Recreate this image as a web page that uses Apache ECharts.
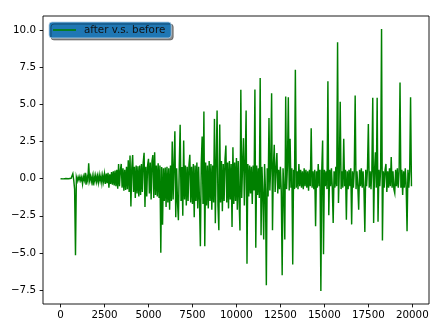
<!DOCTYPE html>
<html>
<head>
<meta charset="utf-8">
<script src="https://cdn.jsdelivr.net/npm/echarts@6/dist/echarts.min.js"></script>
<style>html,body{margin:0;padding:0;background:#fff;}#c{width:448px;height:332px;}</style>
</head>
<body>
<div id="c"></div>
<script>
// Series name
var seriesName = 'after v.s. before';
// Sample spacing along the x axis (sample index units between readings)
var sampleStep = 50;
// Values, one per 50 samples (x = 0 .. 19950)
var diffValues = [
  0, 0.01, 0, -0.01, 0.01, 0, 0.02, -0.01, 0.01, 0,
  0.02, -0.02, 0.03, -0.01, 0.34, -0.1, -0.7, -5.17, 0.1, -0.15,
  0.12, -0.1, 0.15, -0.12, 0.1, -0.35, 0.14, -0.1, 0.4, -0.4,
  0.12, -0.15, 1.05, -0.1, 0.18, -0.2, 0.15, -0.45, 0.2, -0.18,
  0.22, -0.2, 0.18, -0.25, 0.25, -0.15, 0.2, -0.3, 0.22, -0.2,
  0.3, -0.35, 0.35, -0.3, 0.4, -0.6, 0.3, -0.35, 0.45, -0.4,
  0.5, -0.45, 0.55, -0.5, 0.6, -0.67, 1.0, -0.5, 0.55, 1.0,
  -0.6, 0.7, -0.8, 0.6, -0.75, 0.8, -0.7, 1.25, -0.9, 1.57,
  -1.87, 0.7, 1.6, -0.9, 0.8, -1.3, 0.9, -1.0, 0.85, -1.2,
  0.9, -1.1, 1.0, -0.9, 1.1, 1.75, -1.9, 0.8, -1.2, 0.9,
  1.35, -1.0, 1.1, -1.4, 1.2, 1.6, -1.3, 1.79, -1.1, 0.9,
  -1.2, 1.05, -1.3, 0.9, -5.0, 0.8, -3.1, 0.7, -1.5, 0.75,
  -1.9, 0.8, -1.6, 0.7, -2.09, 0.9, -1.5, 2.51, -1.4, 0.8,
  3.2, -2.6, 0.7, -1.6, -2.8, 0.9, 3.64, -1.5, 0.8, -2.5,
  2.58, -1.4, 0.9, -1.8, 0.8, -1.5, 0.9, 1.62, -1.6, 0.8,
  -1.7, 1.0, -2.6, 0.9, -1.5, 1.1, -2.0, 0.8, -1.6, -4.56,
  1.0, 2.85, -1.7, 4.53, -4.56, 1.1, -1.8, 0.9, -2.0, 1.2,
  -1.5, 1.0, -2.1, 0.9, -1.6, 4.04, -3.0, 1.1, 4.6, -1.8,
  -3.48, 3.66, -1.6, 1.2, -2.2, 1.0, -1.5, 1.3, 2.24, -1.6,
  1.1, -2.0, 1.2, -1.4, 1.0, -3.26, 2.13, -1.7, 1.1, -1.5,
  1.4, -2.1, 1.2, -1.4, -3.5, 6.0, -1.3, 1.0, 2.74, -1.8,
  1.2, 4.6, -5.73, 1.0, -1.2, 0.9, -1.0, 0.8, -1.7, 0.9,
  -0.8, 6.02, -4.65, 0.9, -1.1, 0.7, -1.3, 6.8, -3.82, 0.8,
  -1.0, -4.1, 1.0, -0.8, -7.19, 0.7, -1.2, 4.1, -0.8, 0.9,
  5.77, -3.48, 0.8, 2.3, -0.9, 0.7, 1.73, -1.0, 0.6, -0.7,
  0.8, -0.9, -6.52, 0.7, -0.8, -4.1, 5.55, -0.7, 0.9, 5.5,
  -0.8, 2.7, -0.6, 0.7, -5.78, 0.6, -0.7, 7.36, -0.6, 0.5,
  -0.7, 1.0, -0.5, 0.6, -0.6, 0.5, -0.7, 0.7, -0.5, 0.6,
  -0.6, 0.5, -0.8, 0.6, -0.5, 3.41, -0.6, 0.5, -0.7, 0.6,
  -3.21, 0.5, -0.6, 1.0, -0.5, 0.6, -7.57, 0.5, 2.58, -5.1,
  0.6, -0.5, 0.5, -0.7, 6.58, -2.47, 0.6, -0.5, 0.7, -0.6,
  -2.99, 0.5, -0.6, 0.8, -0.5, 9.21, -1.64, 0.6, 5.2, -0.7,
  0.5, -0.6, 2.7, -0.5, 0.6, -2.76, 0.5, -0.7, 0.6, -0.5,
  0.7, -3.08, 0.5, -0.6, 0.6, 5.61, -0.7, 0.5, -0.5, -2.09,
  0.6, -0.5, 0.7, -0.6, 0.5, -0.7, -3.6, 0.6, -0.5, 0.7,
  3.7, -0.6, 0.5, -0.7, 0.6, 5.46, -2.99, 0.5, 1.79, -0.6,
  5.46, -2.9, 0.6, -0.5, 0.7, 10.1, -4.16, 0.5, -0.6, 0.6,
  1.0, -0.9, 0.5, -0.6, 0.7, -0.5, 1.46, -0.6, 0.5, -0.7,
  -0.97, 0.6, -0.5, 0.7, -0.6, 0.5, 6.49, -0.6, 0.6, -1.1,
  0.5, -0.6, 0.7, -0.5, -3.55, 0.6, -0.6, 0.5, 5.5, -0.5
];
// Tick labels
var xTicks = [0, 2500, 5000, 7500, 10000, 12500, 15000, 17500, 20000];
var yTicks = [-7.5, -5.0, -2.5, 0.0, 2.5, 5.0, 7.5, 10.0];

var seriesData = diffValues.map(function (v, i) { return [i * sampleStep, v]; });
var xMin = -997.5, xMax = 20947.5, yMin = -8.4535, yMax = 10.9835;

var font = 'DejaVu Sans';
var chart = echarts.init(document.getElementById('c'), null, { renderer: 'canvas' });
chart.setOption({
  animation: false,
  backgroundColor: '#ffffff',
  grid: { left: 43, right: 19, top: 16, bottom: 28, show: true, borderColor: '#000', borderWidth: 0.9, backgroundColor: 'transparent' },
  legend: {
    left: 49, top: 22,
    padding: [3, 6, 3, 4],
    backgroundColor: '#1f77b4',
    borderColor: '#b8cfe3', borderWidth: 0.8, borderRadius: 3,
    shadowColor: 'rgba(0,0,0,0.45)', shadowOffsetX: 2, shadowOffsetY: 2, shadowBlur: 0,
    icon: 'rect', itemWidth: 23, itemHeight: 1.6,
    textStyle: { fontFamily: font, fontSize: 10.3, color: '#111', padding: [0, 0, 0, 3] },
    data: [{ name: seriesName }]
  },
  xAxis: {
    type: 'value', min: xMin, max: xMax,
    axisLine: { show: false, onZero: false },
    axisTick: { show: true, inside: false, length: 3.4, customValues: xTicks, lineStyle: { color: '#000', width: 0.9 } },
    axisLabel: { customValues: xTicks, margin: 6, fontFamily: font, fontSize: 10.3, color: '#000',
      formatter: function (v) { return String(v); } },
    splitLine: { show: false }
  },
  yAxis: {
    type: 'value', min: yMin, max: yMax,
    axisLine: { show: false, onZero: false },
    axisTick: { show: true, inside: false, length: 3.4, customValues: yTicks, lineStyle: { color: '#000', width: 0.9 } },
    axisLabel: { customValues: yTicks, margin: 7, fontFamily: font, fontSize: 10.3, color: '#000',
      formatter: function (v) { return v.toFixed(1).replace('-', '\u2212'); } },
    splitLine: { show: false }
  },
  series: [{
    name: seriesName, type: 'line', data: seriesData,
    showSymbol: false, symbol: 'none', sampling: null,
    itemStyle: { color: '#008000' },
    lineStyle: { color: '#008000', width: 1.45, join: 'miter' }
  }]
});
</script>
</body>
</html>
